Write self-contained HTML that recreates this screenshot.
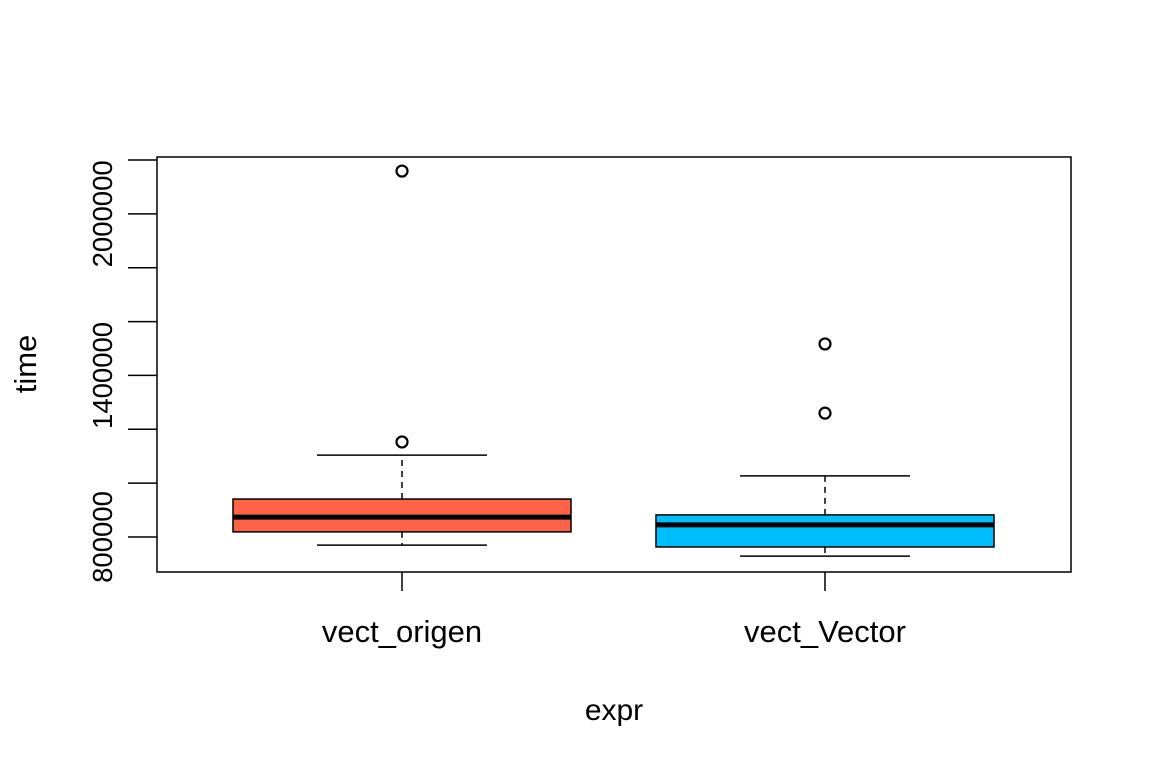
<!DOCTYPE html>
<html><head><meta charset="utf-8"><style>body{margin:0;background:#fff}svg{display:block;font-family:"Liberation Sans",Arial,sans-serif}</style></head>
<body>
<svg width="1152" height="768">
<g id="g"></g>
</svg>
<script>
const categories=["vect_origen","vect_Vector"];
const fills=["#FF6347","#00BFFF"];
const whiskLow=[770000,729000];
const q1=[819000,763000];
const medians=[874000,845000];
const q3=[941000,882000];
const whiskHigh=[1104000,1027000];
const outliers=[[1153000,2159000],[1260000,1517000]];
const yTicks=[800000,1000000,1200000,1400000,1600000,1800000,2000000,2200000];
const yLabels=["800000","1400000","2000000"];
const y=v=>537-(v-800000)*(377/1400000);
const x=i=>402+i*423;
const g=document.getElementById('g');
const NS='http://www.w3.org/2000/svg';
function mk(t,a,p){const e=document.createElementNS(NS,t);for(const k in a)e.setAttribute(k,a[k]);(p||g).appendChild(e);return e;}
let e=mk('rect',{x:157,y:157,width:914,height:415,fill:'none',stroke:'#000','stroke-width':1.5});


yTicks.forEach(v=>{const t=mk('line',{x1:128,x2:157,y1:y(v),y2:y(v),stroke:'#000','stroke-width':1.5});

});
yLabels.forEach(s=>{const v=+s;const t=mk('text',{x:0,y:0,transform:`translate(112,${y(v)}) rotate(-90)`,'text-anchor':'middle','font-size':27.5});t.textContent=s;

});
categories.forEach((c,i)=>{const cx=x(i);
const grp=mk('g',{});


mk('line',{x1:cx,x2:cx,y1:y(q3[i]),y2:y(whiskHigh[i]),stroke:'#000','stroke-width':1.5,'stroke-dasharray':'6,5'},grp);
mk('line',{x1:cx,x2:cx,y1:y(q1[i]),y2:y(whiskLow[i]),stroke:'#000','stroke-width':1.5,'stroke-dasharray':'6,5'},grp);
mk('line',{x1:cx-85,x2:cx+85,y1:y(whiskHigh[i]),y2:y(whiskHigh[i]),stroke:'#000','stroke-width':1.5},grp);
mk('line',{x1:cx-85,x2:cx+85,y1:y(whiskLow[i]),y2:y(whiskLow[i]),stroke:'#000','stroke-width':1.5},grp);
mk('rect',{x:cx-169,y:y(q3[i]),width:338,height:y(q1[i])-y(q3[i]),fill:fills[i],stroke:'#000','stroke-width':1.5},grp);
mk('line',{x1:cx-169,x2:cx+169,y1:y(medians[i]),y2:y(medians[i]),stroke:'#000','stroke-width':5},grp);
outliers[i].forEach(o=>mk('circle',{cx:cx,cy:y(o),r:5.5,fill:'none',stroke:'#000','stroke-width':2.2},grp));
const tk=mk('line',{x1:cx,x2:cx,y1:572,y2:591,stroke:'#000','stroke-width':1.5});


const lb=mk('text',{x:cx,y:642,'text-anchor':'middle','font-size':31});lb.textContent=c;


});
let t=mk('text',{x:614,y:720,'text-anchor':'middle','font-size':30});t.textContent='expr';


t=mk('text',{x:0,y:0,transform:'translate(36,364) rotate(-90)','text-anchor':'middle','font-size':31});t.textContent='time';


</script>
</body></html>
